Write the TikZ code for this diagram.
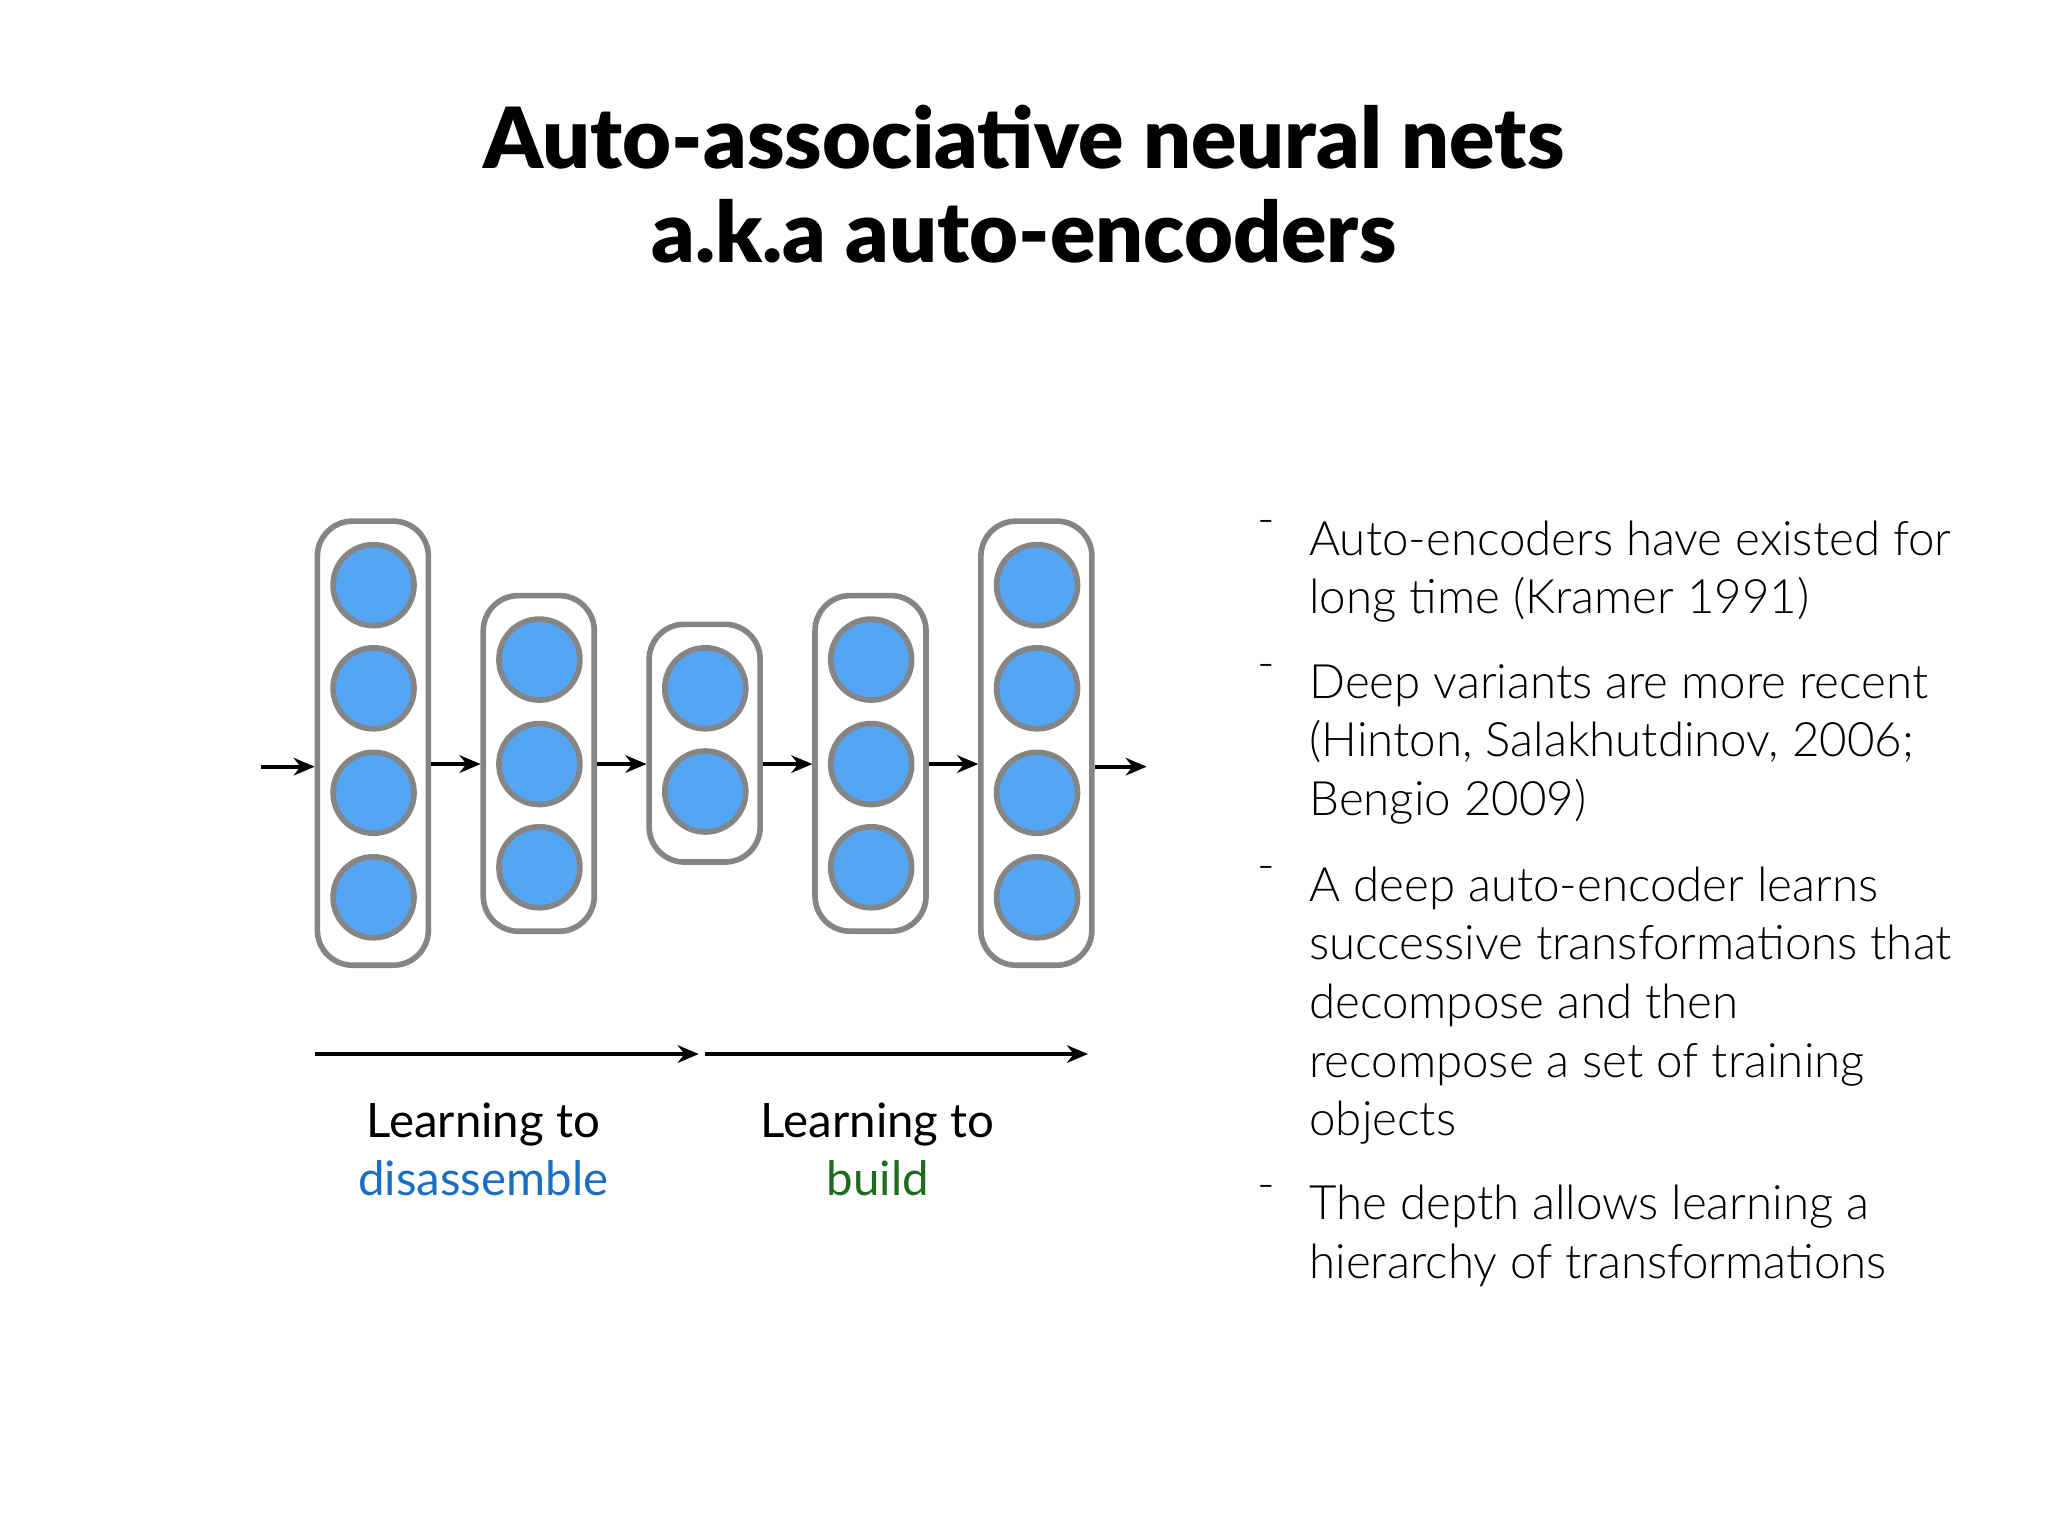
\documentclass[tikz,border=0pt]{standalone}
\usepackage{fontspec}
\setmainfont{Lato}
\newfontfamily\titlefont{Lato Black}
\newfontfamily\lightfont{Lato Light}
\usetikzlibrary{arrows.meta}
\definecolor{nodeblue}{HTML}{55A5F5}
\definecolor{bordergray}{HTML}{858585}
\definecolor{labblue}{HTML}{1A6FC4}
\definecolor{labgreen}{HTML}{1E6B1E}
\begin{document}
\begin{tikzpicture}[x=0.013061cm,y=-0.013061cm,
  neuron/.style={circle,fill=nodeblue,draw=bordergray,line width=1.6pt,minimum size=62*0.013061cm,inner sep=0pt},
  layer/.style={draw=bordergray,line width=1.6pt,rounded corners=10pt},
  arr/.style={-{Stealth[length=6pt,width=5pt]},line width=1.1pt},
  bul/.style={anchor=north west,align=left,inner sep=0pt,font=\lightfont\fontsize{13.5pt}{16.7pt}\selectfont}]
\useasboundingbox (0,0) rectangle (1568,1176);
\node[font=\titlefont\fontsize{24pt}{26.7pt}\selectfont,align=center] (title) at (784,141) {Auto-associative neural nets\\a.k.a auto-encoders};
% layers
\draw[layer] (243,399) rectangle (328,739);
\draw[layer] (370,456) rectangle (455,713);
\draw[layer] (497,478) rectangle (582,660);
\draw[layer] (624,456) rectangle (709,713);
\draw[layer] (751,399) rectangle (836,739);
\foreach \y [count=\i] in {448,527,607,687}{\node[neuron] (a\i) at (286,\y) {}; \node[neuron] (e\i) at (794,\y) {};}
\foreach \y [count=\i] in {505,585,664}{\node[neuron] (b\i) at (413,\y) {}; \node[neuron] (d\i) at (667,\y) {};}
\foreach \y [count=\i] in {527,606}{\node[neuron] (c\i) at (540,\y) {};}
\coordinate (in0) at (200,587); \coordinate (in1) at (241,587);
\coordinate (p1) at (330,585); \coordinate (p2) at (368,585);
\coordinate (p3) at (457,585); \coordinate (p4) at (495,585);
\coordinate (p5) at (584,585); \coordinate (p6) at (622,585);
\coordinate (p7) at (711,585); \coordinate (p8) at (749,585);
\coordinate (o1) at (838,587); \coordinate (o2) at (878,587);
\draw[arr] (in0)--(in1); \draw[arr] (p1)--(p2); \draw[arr] (p3)--(p4);
\draw[arr] (p5)--(p6); \draw[arr] (p7)--(p8); \draw[arr] (o1)--(o2);
\coordinate (l1) at (241,807); \coordinate (l2) at (535,807);
\coordinate (l3) at (540,807); \coordinate (l4) at (833,807);
\draw[arr] (l1)--(l2); \draw[arr] (l3)--(l4);
\node[font=\fontsize{13.5pt}{16.7pt}\selectfont,align=center] (lab1) at (370,880) {Learning to\\\textcolor{labblue}{disassemble}};
\node[font=\fontsize{13.5pt}{16.7pt}\selectfont,align=center] (lab2) at (672,880) {Learning to\\\textcolor{labgreen}{build}};
% bullets
\foreach \y in {398,508,663,907}{\node[bul] at (962,\y) {-};}
\node[bul] (t1) at (1002,398) {Auto-encoders have existed for\\long time (Kramer 1991)};
\node[bul] (t2) at (1002,508) {Deep variants are more recent\\(Hinton, Salakhutdinov, 2006;\\Bengio 2009)};
\node[bul] (t3) at (1002,663) {A deep auto-encoder learns\\successive transformations that\\decompose and then\\recompose a set of training\\objects};
\node[bul] (t4) at (1002,907) {The depth allows learning a\\hierarchy of transformations};
\end{tikzpicture}
\end{document}
